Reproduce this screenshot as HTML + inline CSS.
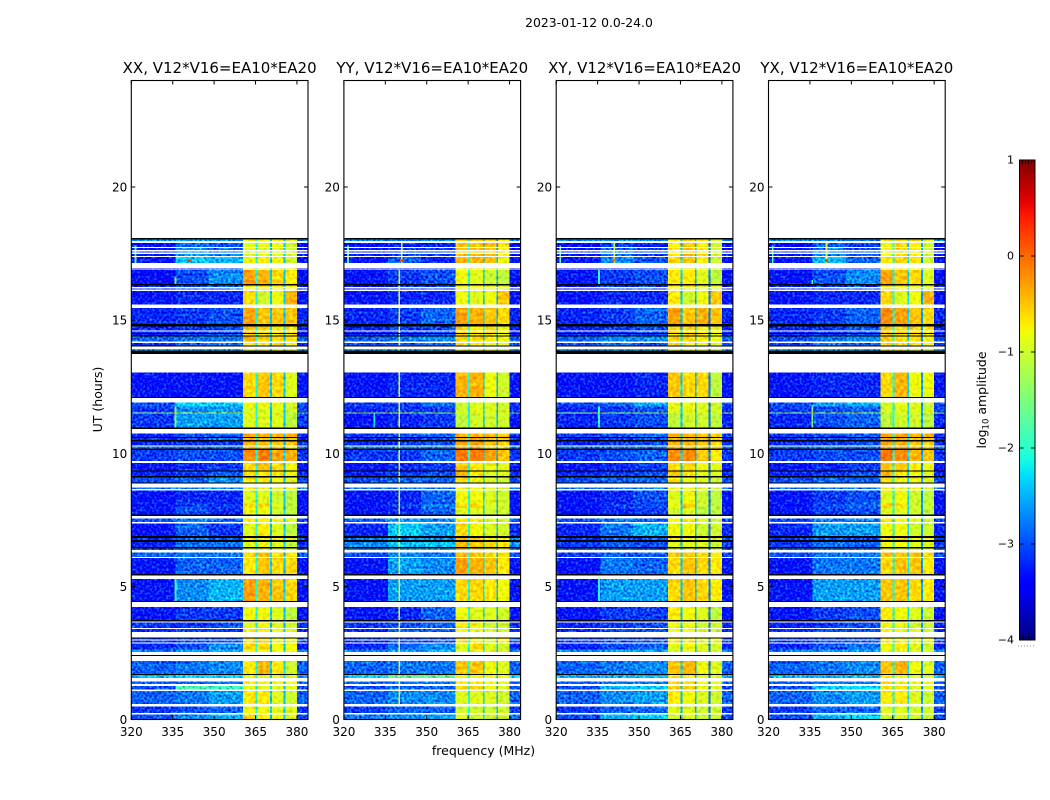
<!DOCTYPE html>
<html lang="en">
<head>
<meta charset="utf-8">
<title>2023-01-12 dynamic spectra</title>
<style>
html,body{margin:0;padding:0;background:#fff;}
#chart{display:block;width:1050px;height:800px;}
text{font-family:"DejaVu Sans","Liberation Sans",sans-serif;fill:#000;}
</style>
</head>
<body>
<svg id="chart" xmlns="http://www.w3.org/2000/svg" width="1050" height="800" viewBox="0 0 1050 800">
<defs>
<filter id="speckle" filterUnits="userSpaceOnUse" x="120" y="70" width="840" height="660" color-interpolation-filters="sRGB">
<feTurbulence type="fractalNoise" baseFrequency="0.42" numOctaves="1" seed="7" result="n"/>
<feColorMatrix in="n" type="matrix" values="0.3 0 0 0 0.35  1 0 0 0 0  0.3 0 0 0 0.35  0 0 0 0 1" result="m"/>
<feComposite in="SourceGraphic" in2="m" operator="arithmetic" k1="0" k2="1" k3="1.5" k4="-0.75" result="a"/>
<feComposite in="a" in2="SourceAlpha" operator="in"/>
</filter>
<filter id="speckle-soft" filterUnits="userSpaceOnUse" x="120" y="70" width="840" height="660" color-interpolation-filters="sRGB">
<feTurbulence type="fractalNoise" baseFrequency="0.3" numOctaves="1" seed="11" result="n"/>
<feColorMatrix in="n" type="matrix" values="0.3 0 0 0 0.35  1 0 0 0 0  0.3 0 0 0 0.35  0 0 0 0 1" result="m"/>
<feComposite in="SourceGraphic" in2="m" operator="arithmetic" k1="0" k2="1" k3="0.6" k4="-0.3" result="a"/>
<feComposite in="a" in2="SourceAlpha" operator="in"/>
</filter>
<linearGradient id="jet-gradient" x1="0" y1="1" x2="0" y2="0"></linearGradient>
</defs>
<text x="589" y="27" font-size="12.4" text-anchor="middle">2023-01-12 0.0-24.0</text>
<text x="483.5" y="755" font-size="12.5" text-anchor="middle">frequency (MHz)</text>
<text x="102" y="399.5" font-size="12.5" text-anchor="middle" transform="rotate(-90 102 399.5)">UT (hours)</text>
<text x="986" y="400" font-size="12.5" text-anchor="middle" transform="rotate(-90 986 400)">log<tspan font-size="8.5" dy="2.5">10</tspan><tspan dy="-2.5"> amplitude</tspan></text>
<g id="panels"></g>
<g id="colorbar"></g>
</svg>
<script>
// UT hours of each recorded scan (anything outside these stays white)
const rowStart=[17.98,17.75,17.64,17.54,17.41,17.15,16.92,16.36,16.25,16.15,15.59,14.86,14.61,14.52,14.42,14.20,14.05,13.85,12.12,11.76,11.54,11.50,10.96,10.61,10.49,10.30,10.18,9.70,9.35,9.14,8.90,8.65,8.12,7.94,7.70,7.42,6.90,6.74,6.48,6.36,6.10,5.46,4.46,3.73,3.44,3.28,3.01,2.90,2.63,2.54,1.71,1.56,1.33,1.13,0.58,0.24,0.00];
const rowEnd=[18.03,17.90,17.71,17.58,17.49,17.37,16.94,16.88,16.30,16.19,16.10,15.46,14.77,14.57,14.47,14.39,14.15,13.92,13.04,11.90,11.76,11.54,11.50,10.75,10.57,10.45,10.26,10.12,9.64,9.31,9.09,8.71,8.61,8.12,7.94,7.55,7.37,6.82,6.67,6.42,6.27,6.06,5.28,4.23,3.65,3.40,3.05,2.97,2.86,2.63,2.20,1.67,1.43,1.26,1.08,0.48,0.18];
// UT hours of fully flagged (black) records
const blackStart=[18.03,16.30,14.77,14.47,14.39,14.01,13.72,12.08,10.92,10.57,10.45,10.12,9.31,9.09,8.86,7.64,6.82,6.67,6.42,5.41,4.41,3.68,3.05,2.38,1.67];
const blackEnd=[18.09,16.36,14.86,14.52,14.42,14.05,13.85,12.12,10.96,10.61,10.49,10.18,9.35,9.14,8.90,7.70,6.90,6.74,6.48,5.46,4.46,3.73,3.08,2.42,1.71];
// Frequency band edges in MHz: low, mid-a, mid-b, band1, gap, band2, gap, band3, gap, band4, edge
const freqEdges=[320,336,348,360.5,365,365.7,370.3,370.9,375.2,375.9,380,384];
// log10 amplitude x10 per scan: [low, mid-a, mid-b, band1, band2, band3, band4]
const levelsXX=[[-24,-23,-23,-8,-8,-7,-9],[-31,-25,-27,-9,-9,-8,-10],[-30,-24,-26,-9,-9,-9,-10],[-28,-24,-25,-9,-9,-9,-10],[-30,-23,-24,-9,-8,-9,-10],[-30,-21,-22,-8,-7,-8,-10],[-30,-29,-28,-9,-9,-9,-10],[-31,-27,-24,-3,-4,-6,-7],[-29,-27,-26,-6,-6,-7,-8],[-29,-28,-27,-7,-7,-7,-8],[-30,-29,-29,-6,-10,-8,-4],[-29,-28,-27,-3,-5,-5,-5],[-29,-28,-27,-5,-6,-7,-7],[-29,-28,-27,-5,-6,-7,-7],[-30,-28,-26,-6,-6,-7,-7],[-26,-25,-25,-4,-6,-6,-6],[-29,-26,-25,-7,-7,-7,-8],[-22,-22,-22,-8,-8,-8,-9],[-30,-30,-30,-6,-5,-6,-9],[-27,-20,-21,-8,-8,-8,-9],[-28,-24,-23,-9,-9,-9,-10],[-15,-13,-13,-9,-9,-9,-10],[-28,-23,-23,-9,-9,-9,-11],[-29,-27,-26,-3,-4,-4,-4],[-29,-28,-26,-4,-5,-5,-5],[-29,-29,-28,-4,-5,-5,-5],[-25,-25,-25,-5,-5,-6,-7],[-28,-27,-27,-2,-1,-3,-4],[-30,-29,-28,-6,-5,-6,-8],[-29,-28,-26,-6,-7,-7,-8],[-27,-26,-24,-7,-7,-8,-9],[-25,-24,-24,-7,-8,-8,-8],[-30,-29,-29,-9,-9,-10,-11],[-30,-27,-28,-6,-6,-9,-11],[-30,-27,-29,-8,-8,-10,-11],[-27,-24,-26,-7,-7,-8,-9],[-30,-26,-28,-9,-7,-9,-11],[-28,-26,-27,-7,-7,-8,-9],[-29,-25,-25,-9,-8,-9,-11],[-27,-25,-26,-8,-8,-8,-8],[-26,-25,-25,-6,-5,-6,-7],[-30,-26,-26,-7,-5,-6,-6],[-30,-24,-22,-3,-4,-5,-6],[-30,-28,-28,-8,-8,-9,-11],[-28,-28,-27,-9,-8,-9,-10],[-29,-28,-28,-7,-7,-8,-9],[-28,-27,-27,-6,-6,-8,-8],[-28,-27,-27,-6,-6,-8,-8],[-29,-27,-24,-6,-6,-8,-8],[-24,-23,-22,-8,-8,-8,-8],[-26,-25,-24,-7,-4,-7,-10],[-22,-20,-20,-8,-9,-9,-9],[-26,-26,-25,-7,-7,-8,-8],[-27,-18,-19,-9,-9,-9,-9],[-26,-25,-23,-7,-7,-9,-10],[-28,-27,-26,-8,-8,-9,-9],[-27,-24,-22,-6,-7,-8,-9]];
const levelsYY=[[-24,-24,-24,-5,-5,-5,-7],[-31,-29,-29,-5,-5,-5,-7],[-30,-28,-28,-5,-5,-5,-7],[-28,-27,-27,-5,-5,-5,-7],[-30,-28,-28,-5,-5,-5,-7],[-30,-26,-29,-4,-4,-5,-8],[-30,-29,-29,-7,-7,-7,-8],[-30,-28,-27,-8,-9,-10,-11],[-30,-28,-28,-8,-8,-9,-9],[-30,-28,-28,-8,-8,-9,-9],[-30,-29,-29,-8,-9,-8,-5],[-29,-28,-26,-3,-4,-5,-6],[-29,-28,-27,-6,-7,-6,-8],[-29,-28,-27,-6,-7,-6,-8],[-29,-28,-27,-6,-7,-7,-8],[-26,-25,-24,-6,-6,-7,-8],[-27,-26,-26,-7,-7,-8,-9],[-22,-22,-22,-8,-8,-8,-9],[-30,-29,-29,-4,-4,-8,-10],[-28,-28,-25,-10,-9,-9,-10],[-29,-28,-28,-10,-9,-9,-10],[-15,-14,-14,-9,-8,-9,-9],[-30,-29,-28,-11,-10,-10,-10],[-28,-27,-26,-4,-4,-4,-5],[-29,-28,-27,-4,-3,-5,-6],[-29,-28,-27,-3,-3,-5,-6],[-24,-24,-24,-4,-4,-6,-6],[-28,-28,-26,-1,-1,-3,-5],[-30,-29,-28,-5,-7,-8,-9],[-29,-28,-27,-4,-7,-9,-9],[-27,-26,-26,-6,-8,-9,-10],[-25,-25,-25,-8,-8,-9,-10],[-30,-29,-26,-8,-8,-9,-10],[-30,-28,-25,-6,-6,-9,-10],[-30,-29,-26,-9,-9,-10,-10],[-26,-23,-24,-7,-7,-9,-10],[-29,-21,-23,-6,-8,-9,-10],[-25,-23,-24,-4,-6,-7,-8],[-24,-21,-21,-4,-5,-6,-7],[-24,-22,-22,-5,-6,-7,-7],[-27,-24,-25,-4,-5,-6,-7],[-30,-23,-24,-3,-4,-5,-7],[-30,-23,-23,-6,-6,-7,-8],[-30,-29,-26,-8,-9,-9,-10],[-28,-27,-26,-7,-8,-10,-10],[-29,-26,-26,-8,-8,-9,-10],[-28,-27,-27,-6,-8,-9,-7],[-28,-27,-27,-6,-8,-9,-7],[-29,-26,-24,-9,-6,-9,-10],[-24,-22,-22,-9,-9,-9,-9],[-26,-25,-25,-5,-5,-8,-9],[-20,-17,-17,-8,-8,-8,-8],[-26,-25,-25,-7,-7,-8,-9],[-27,-26,-26,-6,-6,-8,-9],[-26,-24,-24,-9,-9,-9,-10],[-28,-26,-26,-10,-10,-10,-10],[-25,-24,-23,-9,-10,-10,-10]];
const levelsXY=[[-24,-24,-24,-7,-6,-7,-9],[-31,-28,-29,-7,-5,-7,-10],[-30,-26,-28,-7,-5,-7,-10],[-28,-25,-27,-7,-5,-7,-10],[-30,-25,-28,-7,-5,-7,-10],[-30,-24,-27,-6,-5,-7,-10],[-30,-29,-29,-8,-7,-8,-10],[-30,-28,-27,-7,-7,-9,-11],[-30,-28,-28,-7,-7,-9,-9],[-30,-28,-28,-7,-8,-9,-10],[-30,-29,-29,-7,-10,-8,-5],[-29,-28,-26,-3,-5,-4,-5],[-29,-28,-27,-6,-6,-7,-8],[-29,-28,-27,-6,-6,-7,-8],[-29,-28,-27,-6,-6,-7,-8],[-26,-24,-24,-6,-6,-7,-8],[-27,-25,-27,-7,-7,-8,-9],[-22,-22,-22,-8,-8,-8,-9],[-30,-30,-29,-5,-6,-6,-11],[-27,-26,-22,-8,-8,-9,-10],[-29,-28,-27,-9,-9,-9,-10],[-15,-15,-15,-9,-8,-9,-9],[-29,-28,-27,-11,-10,-10,-11],[-28,-27,-26,-4,-4,-5,-5],[-29,-28,-27,-4,-4,-5,-6],[-29,-28,-27,-4,-4,-5,-6],[-25,-25,-25,-4,-5,-6,-6],[-28,-27,-26,-2,-2,-5,-7],[-30,-29,-28,-6,-6,-8,-9],[-29,-28,-27,-5,-7,-9,-9],[-27,-26,-26,-7,-8,-9,-10],[-25,-25,-25,-8,-8,-9,-10],[-30,-29,-27,-9,-8,-10,-11],[-30,-28,-27,-8,-5,-10,-11],[-30,-29,-28,-10,-9,-11,-11],[-27,-25,-26,-8,-7,-9,-10],[-29,-25,-22,-8,-8,-10,-10],[-28,-26,-26,-7,-8,-8,-9],[-28,-26,-27,-9,-9,-9,-10],[-26,-25,-26,-8,-8,-9,-9],[-28,-26,-26,-5,-5,-6,-7],[-30,-25,-26,-6,-5,-6,-7],[-30,-23,-23,-6,-5,-6,-7],[-30,-28,-28,-7,-8,-9,-11],[-29,-28,-27,-8,-8,-10,-10],[-29,-27,-27,-8,-8,-9,-10],[-28,-27,-27,-7,-7,-9,-8],[-28,-27,-27,-7,-7,-9,-8],[-29,-27,-26,-9,-8,-9,-10],[-24,-23,-23,-9,-9,-9,-9],[-26,-25,-24,-5,-4,-8,-9],[-22,-22,-22,-7,-8,-9,-9],[-26,-25,-25,-6,-6,-8,-9],[-27,-22,-21,-6,-6,-8,-9],[-26,-24,-23,-7,-8,-9,-10],[-28,-26,-26,-9,-9,-10,-10],[-27,-22,-20,-10,-9,-10,-10]];
const levelsYX=[[-24,-24,-24,-7,-6,-5,-8],[-31,-26,-28,-8,-6,-7,-10],[-30,-25,-27,-8,-6,-7,-10],[-28,-24,-26,-8,-6,-7,-10],[-30,-24,-27,-8,-6,-7,-10],[-30,-22,-26,-7,-6,-7,-10],[-30,-29,-29,-8,-7,-8,-10],[-30,-27,-24,-3,-5,-6,-9],[-29,-28,-27,-6,-7,-8,-9],[-29,-28,-27,-6,-7,-8,-9],[-30,-29,-29,-6,-9,-8,-4],[-29,-28,-26,-2,-3,-5,-6],[-29,-28,-27,-5,-6,-6,-7],[-29,-28,-27,-5,-6,-6,-7],[-29,-28,-27,-5,-6,-6,-7],[-27,-25,-24,-5,-6,-6,-7],[-28,-25,-26,-6,-7,-7,-8],[-22,-22,-22,-7,-8,-8,-9],[-30,-29,-29,-6,-4,-8,-8],[-27,-23,-22,-9,-8,-9,-10],[-28,-27,-26,-10,-9,-9,-10],[-15,-13,-13,-9,-8,-9,-9],[-29,-27,-26,-11,-10,-10,-11],[-28,-27,-26,-3,-3,-4,-4],[-29,-28,-27,-3,-4,-5,-5],[-29,-28,-27,-3,-4,-5,-5],[-25,-24,-25,-4,-4,-5,-6],[-28,-27,-27,-1,-2,-4,-5],[-30,-29,-28,-5,-5,-7,-8],[-29,-28,-27,-4,-7,-8,-9],[-27,-26,-26,-6,-8,-8,-9],[-25,-25,-25,-7,-8,-8,-9],[-30,-28,-27,-9,-8,-10,-11],[-30,-27,-26,-6,-7,-10,-10],[-30,-28,-27,-9,-9,-10,-11],[-27,-25,-25,-7,-8,-9,-10],[-29,-23,-23,-8,-8,-10,-10],[-28,-27,-27,-6,-6,-8,-8],[-28,-25,-26,-8,-8,-9,-9],[-26,-25,-25,-7,-8,-8,-8],[-27,-25,-25,-5,-5,-5,-6],[-30,-25,-25,-6,-5,-5,-7],[-30,-23,-23,-5,-5,-6,-7],[-30,-28,-27,-7,-8,-9,-10],[-29,-28,-27,-8,-8,-10,-10],[-29,-27,-27,-7,-8,-9,-10],[-28,-27,-27,-7,-7,-8,-8],[-28,-27,-27,-7,-7,-8,-8],[-29,-27,-25,-8,-7,-9,-10],[-24,-23,-23,-8,-9,-9,-9],[-26,-25,-24,-5,-4,-8,-9],[-22,-22,-22,-7,-8,-9,-9],[-26,-25,-25,-6,-7,-8,-8],[-27,-21,-20,-6,-6,-9,-9],[-26,-24,-23,-7,-7,-9,-10],[-28,-26,-26,-9,-9,-10,-10],[-27,-22,-20,-10,-9,-10,-10]];
// Amplitude (x10) in the three inter-band notches for each polarisation
const notchXX=[-21,-24,-24];
const notchYY=[-21,-23,-25];
const notchXY=[-24,-25,-28];
const notchYX=[-21,-23,-26];
// Narrow-band interference lines: [MHz, UT from, UT to, level x10]
const linesXX=[[321.5,17.15,17.8,-17],[336,10.96,11.76,-16],[336,16.36,16.6,-16],[336,4.46,5.28,-19]];
const linesYY=[[321.5,17.15,17.8,-17],[340,0.58,16.88,-10],[331,10.96,11.5,-22],[341,17.15,17.9,-9]];
const linesXY=[[321.5,17.15,17.8,-17],[335.5,10.96,11.76,-20],[335.5,16.36,16.88,-20],[335.5,4.46,5.46,-21],[341,17.15,17.9,-10]];
const linesYX=[[321.5,17.15,17.8,-17],[335.8,10.96,11.76,-15],[335.8,16.36,16.5,-17],[341,17.15,17.9,-10]];
// Interference bursts at UT 11.52 h (MHz), drawn hot
const burstsXX=[329,335,351,356,358];
const burstsYY=[326,330,335,343,352];
const burstsXY=[333,336,347,351,358];
const burstsYX=[335,344,351,353,361];
// Bright point source: MHz, UT, level x10
const sourceFreq=341;
const sourceTime=17.24;
const sourceLevel=1;
// Axes
const panelNames=['XX','YY','XY','YX'];
const panelLeft=[131.3,343.9,556.2,768.5];
const panelWidth=176.7;
const panelTop=80.5;
const panelBottom=719.5;
const freqMin=320;
const freqMax=384;
const timeMin=0;
const timeMax=24;
const freqTicks=[320,335,350,365,380];
const timeTicks=[0,5,10,15,20];
const cbarTicks=[-4,-3,-2,-1,0,1];
const cbarMin=-4;
const cbarMax=1;

const SVGNS='http://www.w3.org/2000/svg';
function mk(parent,tag,attrs){
  const el=document.createElementNS(SVGNS,tag);
  for(const k in attrs){el.setAttribute(k,attrs[k]);}
  parent.appendChild(el);
  return el;
}
function jet(t){
  t=Math.max(0,Math.min(1,t));
  const seg=(pts)=>{
    for(let i=1;i<pts.length;i++){
      if(t<=pts[i][0]){
        const a=pts[i-1],b=pts[i];
        return a[1]+(b[1]-a[1])*(t-a[0])/(b[0]-a[0]);
      }
    }
    return pts[pts.length-1][1];
  };
  const r=seg([[0,0],[.35,0],[.66,1],[.89,1],[1,.5]]);
  const g=seg([[0,0],[.125,0],[.375,1],[.64,1],[.91,0],[1,0]]);
  const b=seg([[0,.5],[.11,1],[.34,1],[.65,0],[1,0]]);
  return 'rgb('+Math.round(r*255)+','+Math.round(g*255)+','+Math.round(b*255)+')';
}
function colorOf(tenths){return jet((tenths/10-cbarMin)/(cbarMax-cbarMin));}
// The speckle overlay brightens faint cells, so the quiet sky is drawn a little lower to compensate
function skyColorOf(tenths){return colorOf(tenths<-19?tenths-3:tenths);}
function xScale(i,f){return panelLeft[i]+(f-freqMin)/(freqMax-freqMin)*panelWidth;}
function yScale(t){return panelBottom-(t-timeMin)/(timeMax-timeMin)*(panelBottom-panelTop);}

const panelLevels=[levelsXX,levelsYY,levelsXY,levelsYX];
const panelNotches=[notchXX,notchYY,notchXY,notchYX];
const panelLines=[linesXX,linesYY,linesXY,linesYX];
const panelBursts=[burstsXX,burstsYY,burstsXY,burstsYX];
const panelsRoot=document.getElementById('panels');

panelNames.forEach(function(name,p){
  const key=name.toLowerCase();
  const g=mk(panelsRoot,'g',{});
  
  

  const heat=mk(g,'g',{filter:'url(#speckle)','shape-rendering':'crispEdges'});
  
  
  const bandHeat=mk(g,'g',{filter:'url(#speckle-soft)','shape-rendering':'crispEdges'});
  
  
  const rects=(x0,x1,t0,t1,fill,parent)=>{
    const y1=yScale(t0),y0=yScale(t1);
    return mk(parent,'rect',{x:x0.toFixed(2),y:y0.toFixed(2),width:(x1-x0).toFixed(2),height:Math.max(y1-y0,1).toFixed(2),fill:fill});
  };
  rowStart.forEach(function(t0,r){
    const t1=rowEnd[r];
    const lv=panelLevels[p][r];
    const n=panelNotches[p];
    const cols=[lv[0],lv[1],lv[2],lv[3],n[0],lv[4],n[1],lv[5],n[2],lv[6],lv[0]];
    cols.forEach(function(v,c){
      const inBand=c>=3&&c<=9;
      const cell=rects(xScale(p,freqEdges[c]),xScale(p,freqEdges[c+1]),t0,t1,inBand?colorOf(v):skyColorOf(v),inBand?bandHeat:heat);
      
      
    });
    panelLines[p].forEach(function(l){
      const a=Math.max(t0,l[1]),b=Math.min(t1,l[2]);
      if(b>a){
        const mark=rects(xScale(p,l[0]-0.3),xScale(p,l[0]+0.3),a,b,colorOf(l[3]),bandHeat);
        
        
      }
    });
  });
  panelBursts[p].forEach(function(f){
    const b=rects(xScale(p,f),xScale(p,f+0.9),11.50,11.54,colorOf(-2),bandHeat);
    
    
  });
  const src=rects(xScale(p,sourceFreq-0.6),xScale(p,sourceFreq+0.6),sourceTime-0.06,sourceTime+0.06,colorOf(sourceLevel),bandHeat);
  
  

  const blacks=mk(g,'g',{'shape-rendering':'crispEdges'});
  
  
  blackStart.forEach(function(t0,r){
    const y0=yScale(blackEnd[r]),y1=yScale(t0);
    const b=mk(blacks,'rect',{x:panelLeft[p].toFixed(2),y:y0.toFixed(2),width:panelWidth,height:Math.max(y1-y0,1).toFixed(2),fill:'#000'});
    
    
  });

  const frame=mk(g,'rect',{x:panelLeft[p],y:panelTop,width:panelWidth,height:panelBottom-panelTop,fill:'none',stroke:'#000','stroke-width':1.1});
  
  

  freqTicks.forEach(function(f){
    const x=xScale(p,f);
    const tickB=mk(g,'line',{x1:x,x2:x,y1:panelBottom,y2:panelBottom-4,stroke:'#000','stroke-width':1});
    
    
    const tickT=mk(g,'line',{x1:x,x2:x,y1:panelTop,y2:panelTop+4,stroke:'#000','stroke-width':1});
    
    
    const lab=mk(g,'text',{x:x,y:736,'font-size':12,'text-anchor':'middle'});
    lab.textContent=String(f);
    
    
  });
  timeTicks.forEach(function(t){
    const y=yScale(t);
    const tickL=mk(g,'line',{x1:panelLeft[p],x2:panelLeft[p]+4,y1:y,y2:y,stroke:'#000','stroke-width':1});
    
    
    const tickR=mk(g,'line',{x1:panelLeft[p]+panelWidth,x2:panelLeft[p]+panelWidth-4,y1:y,y2:y,stroke:'#000','stroke-width':1});
    
    
    const lab=mk(g,'text',{x:panelLeft[p]-4,y:y+4.5,'font-size':12,'text-anchor':'end'});
    lab.textContent=String(t);
    
    
  });
  const title=mk(g,'text',{x:panelLeft[p]+panelWidth/2,y:73,'font-size':15,'text-anchor':'middle'});
  title.textContent=name+', V12*V16=EA10*EA20';
  
  
});

// Colorbar
const cbX=1019.5,cbW=15.5,cbTop=160,cbBottom=640;
function cbY(v){return cbBottom-(v-cbarMin)/(cbarMax-cbarMin)*(cbBottom-cbTop);}
const grad=document.getElementById('jet-gradient');
for(let i=0;i<=50;i++){
  mk(grad,'stop',{offset:(i/50),'stop-color':jet(i/50)});
}
const cb=document.getElementById('colorbar');
const bar=mk(cb,'rect',{x:cbX,y:cbTop,width:cbW,height:cbBottom-cbTop,fill:'url(#jet-gradient)',stroke:'#000','stroke-width':1});


cbarTicks.forEach(function(v){
  const y=cbY(v);
  const a=mk(cb,'line',{x1:cbX,x2:cbX+4,y1:y,y2:y,stroke:'#000','stroke-width':1});
  
  
  const b=mk(cb,'line',{x1:cbX+cbW,x2:cbX+cbW-4,y1:y,y2:y,stroke:'#000','stroke-width':1});
  
  
  const lab=mk(cb,'text',{x:1014,y:y+3.5,'font-size':11,'text-anchor':'end'});
  lab.textContent=(v<0?'\u2212':'')+Math.abs(v);
  
  
});
[cbX+3,cbX+6,cbX+9,cbX+12].forEach(function(x){
  const t=mk(cb,'line',{x1:x,x2:x,y1:cbTop,y2:cbTop+4,stroke:'#000','stroke-width':0.8});
  
  
  const b=mk(cb,'line',{x1:x,x2:x,y1:cbBottom,y2:cbBottom-4,stroke:'#000','stroke-width':0.8});
  
  
});
const dots=mk(cb,'line',{x1:1018,x2:1035,y1:646,y2:646,stroke:'#888','stroke-width':1,'stroke-dasharray':'1 2'});


</script>
</body>
</html>
